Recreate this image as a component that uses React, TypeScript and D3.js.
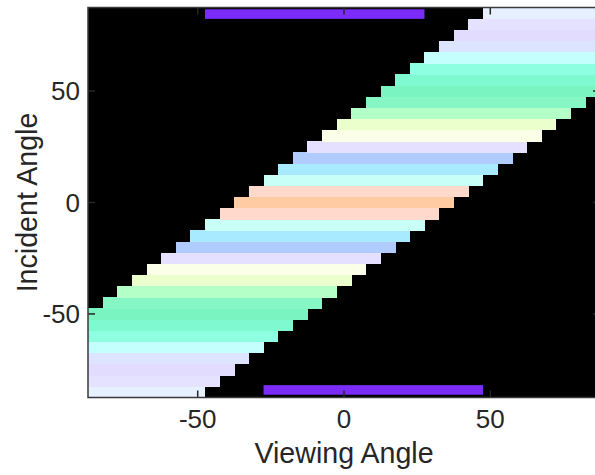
import React from "react";
import * as d3 from "d3";

// Angle grid (degrees), cell centres
const incidentAngles = [
  -85, -80, -75, -70, -65, -60, -55, -50, -45, -40, -35, -30, -25, -20, -15, -10, -5,
  0, 5, 10, 15, 20, 25, 30, 35, 40, 45, 50, 55, 60, 65, 70, 75, 80, 85,
];
const viewingAngles = [
  -85, -80, -75, -70, -65, -60, -55, -50, -45, -40, -35, -30, -25, -20, -15, -10, -5,
  0, 5, 10, 15, 20, 25, 30, 35, 40, 45, 50, 55, 60, 65, 70, 75, 80, 85,
];

// Rendered colour for each incident angle (same order as incidentAngles)
const rowColors = [
  "#E6F0FF", "#E4E2FF", "#E2DCFF", "#DCE4FF", "#C4FFFD", "#8EFFE0", "#7FFAD0",
  "#7AF5C2", "#86F7C4", "#B4FFC8", "#EBFFCC", "#FBFFE8", "#E5E0FF", "#B0CCFF",
  "#A8EAFF", "#C8FFF6", "#FFDACC", "#FFCBA2", "#FFDACC", "#C8FFF6", "#A8EAFF",
  "#B0CCFF", "#E5E0FF", "#FBFFE8", "#EBFFCC", "#B4FFC8", "#86F7C4", "#7AF5C2",
  "#7FFAD0", "#8EFFE0", "#C4FFFD", "#DCE4FF", "#E2DCFF", "#E4E2FF", "#E6F0FF",
];

// Largest |viewing - incident| that has a sample
const viewingWindow = 35;

// Highlighted viewing ranges
const markIncident = [85, -85];
const markFrom = [-47.5, -27.5];
const markTo = [27.5, 47.5];

const xTicks = [-50, 0, 50];
const yTicks = [-50, 0, 50];

const W = 595;
const H = 475;
const left = 88;
const right = 600;
const top = 7.5;
const bottom = 397.5;

const FONT = "'Liberation Sans', Arial, Helvetica, sans-serif";
const AXIS = "#262626";

export default function App() {
  const x = d3.scaleLinear().domain([-87.5, 87.5]).range([left, right]);
  const y = d3.scaleLinear().domain([-87.5, 87.5]).range([bottom, top]);
  const step = 5;
  const cw = x(step) - x(0);
  const ch = y(0) - y(step);

  const cells: { v: number; i: number; c: string }[] = [];
  incidentAngles.forEach((inc, k) => {
    viewingAngles.forEach((v) => {
      if (Math.abs(v - inc) <= viewingWindow) cells.push({ v, i: inc, c: rowColors[k] });
    });
  });

  const tickLen = 7;

  return (
    <svg
      width={W}
      height={H}
      style={{ position: "absolute", left: 0, top: 0, background: "#fff" }}
      fontFamily={FONT}
    >
      <rect x={left} y={top} width={right - left} height={bottom - top} fill="#000" />
      <g shapeRendering="crispEdges">
        {cells.map((d, k) => (
          <rect
            key={k}
            x={x(d.v - step / 2)}
            y={y(d.i + step / 2)}
            width={cw + 0.3}
            height={ch + 0.3}
            fill={d.c}
          />
        ))}
      </g>
      {markIncident.map((inc, k) => (
        <rect
          key={k}
          x={x(markFrom[k])}
          y={y(inc) - 4.8 + (inc > 0 ? 1 : -2)}
          width={x(markTo[k]) - x(markFrom[k])}
          height={9.6}
          fill="#7B2CFA"
        />
      ))}
      {/* ticks on all four sides, pointing inward */}
      <g stroke={AXIS} strokeWidth={1.5}>
        {xTicks.map((t) => (
          <g key={t}>
            <line x1={x(t)} x2={x(t)} y1={bottom} y2={bottom - tickLen} />
            <line x1={x(t)} x2={x(t)} y1={top} y2={top + tickLen} />
          </g>
        ))}
        {yTicks.map((t) => (
          <g key={t}>
            <line x1={left} x2={left + tickLen} y1={y(t)} y2={y(t)} />
            <line x1={right} x2={right - tickLen} y1={y(t)} y2={y(t)} />
          </g>
        ))}
      </g>
      <rect
        x={left}
        y={top}
        width={right - left}
        height={bottom - top}
        fill="none"
        stroke="#3a3a3a"
        strokeWidth={1.5}
      />
      <g fill={AXIS} fontSize={26}>
        {xTicks.map((t) => (
          <text key={t} x={x(t)} y={428} textAnchor="middle">
            {t}
          </text>
        ))}
        {yTicks.map((t) => (
          <text key={t} x={80} y={y(t) + 9.3} textAnchor="end">
            {t}
          </text>
        ))}
      </g>
      <text x={x(0)} y={462.5} textAnchor="middle" fontSize={28.6} fill={AXIS}>
        Viewing Angle
      </text>
      <text
        transform={`translate(37, ${y(0)}) rotate(-90)`}
        textAnchor="middle"
        fontSize={28.6}
        fill={AXIS}
      >
        Incident Angle
      </text>
    </svg>
  );
}
